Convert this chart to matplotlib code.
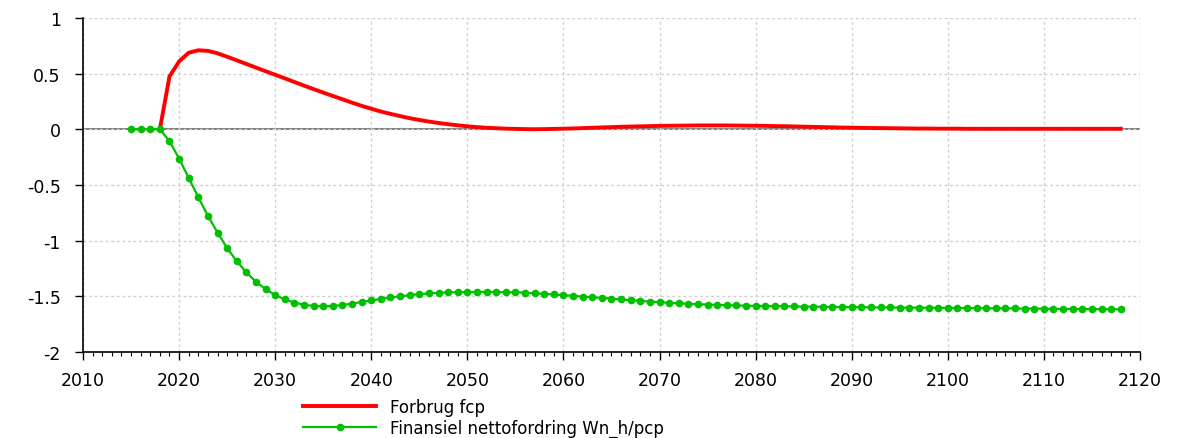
import matplotlib
matplotlib.use("Agg")
import matplotlib.pyplot as plt
from matplotlib.ticker import MultipleLocator

# Forbrug fcp (2018-2118)
years_fcp = list(range(2018, 2119))
fcp = [
    0.000, 0.475, 0.610, 0.688, 0.710, 0.705, 0.683, 0.652, 0.620, 0.587,
    0.555, 0.522, 0.490, 0.458, 0.425, 0.393, 0.361, 0.330, 0.300, 0.270,
    0.240, 0.211, 0.185, 0.160, 0.139, 0.119, 0.100, 0.084, 0.070, 0.057,
    0.046, 0.036, 0.027, 0.020, 0.014, 0.010, 0.006, 0.004, 0.002, 0.001,
    0.002, 0.004, 0.006, 0.008, 0.011, 0.014, 0.017, 0.020, 0.023, 0.025,
    0.027, 0.029, 0.031, 0.032, 0.033, 0.034, 0.035, 0.035, 0.035, 0.035,
    0.034, 0.033, 0.032, 0.031, 0.029, 0.028, 0.026, 0.024, 0.022, 0.020,
    0.018, 0.016, 0.015, 0.013, 0.012, 0.011, 0.010, 0.009, 0.008, 0.007,
    0.007, 0.006, 0.006, 0.006, 0.005, 0.005, 0.005, 0.005, 0.005, 0.005,
    0.005, 0.005, 0.005, 0.005, 0.005, 0.005, 0.005, 0.005, 0.005, 0.005,
    0.005,
]

# Finansiel nettofordring Wn_h/pcp (2015-2118)
years_wn = list(range(2015, 2119))
wn = [
    0.000, 0.000, 0.000, 0.000, -0.105, -0.263, -0.436, -0.610, -0.777, -0.927,
    -1.067, -1.184, -1.285, -1.369, -1.435, -1.489, -1.528, -1.557, -1.575, -1.587,
    -1.590, -1.587, -1.578, -1.566, -1.550, -1.536, -1.524, -1.510, -1.500, -1.490,
    -1.480, -1.474, -1.468, -1.465, -1.462, -1.462, -1.460, -1.460, -1.462, -1.462,
    -1.463, -1.468, -1.473, -1.478, -1.483, -1.490, -1.496, -1.502, -1.508, -1.514,
    -1.521, -1.528, -1.535, -1.541, -1.547, -1.553, -1.558, -1.563, -1.567, -1.571,
    -1.574, -1.577, -1.580, -1.582, -1.584, -1.586, -1.588, -1.589, -1.590, -1.591,
    -1.592, -1.593, -1.594, -1.595, -1.596, -1.597, -1.598, -1.599, -1.600, -1.600,
    -1.601, -1.601, -1.602, -1.602, -1.603, -1.604, -1.605, -1.605, -1.606, -1.607,
    -1.607, -1.608, -1.609, -1.610, -1.610, -1.611, -1.612, -1.613, -1.613, -1.614,
    -1.615, -1.616, -1.616, -1.617,
]

labels = ["Forbrug fcp", "Finansiel nettofordring Wn_h/pcp"]

plt.rcParams["font.family"] = ["DejaVu Sans"]

fig = plt.figure(figsize=(11.79, 4.39), dpi=100)
ax = fig.add_axes([0.0704, 0.1959, 0.8965, 0.7608])

# grid og nul-linje
ax.grid(True, which="major", color="#cfcfcf", linestyle=(0, (2, 2)), linewidth=1.0)
ax.axhline(0, color="#666666", linewidth=1.2, zorder=1)

ax.plot(years_fcp, fcp, color="#ff0000", linewidth=2.8, label=labels[0], zorder=3)
ax.plot(years_wn, wn, color="#00c000", linewidth=1.6, marker="o", markersize=4.5,
        label=labels[1], zorder=4)

ax.set_xlim(2010, 2120)
ax.set_ylim(-2, 1)
ax.xaxis.set_major_locator(MultipleLocator(10))
ax.xaxis.set_minor_locator(MultipleLocator(1))
ax.yaxis.set_major_locator(MultipleLocator(0.5))
ax.yaxis.set_major_formatter(plt.FuncFormatter(lambda v, p: f"{v:g}"))

for s in ["top", "right"]:
    ax.spines[s].set_visible(False)
for s in ["left", "bottom"]:
    ax.spines[s].set_linewidth(1.2)

ax.tick_params(axis="both", which="major", length=6, width=1.0, labelsize=12.5, pad=8)
ax.tick_params(axis="x", which="minor", length=3, width=0.8)
ax.tick_params(axis="y", which="major", pad=10)

fig.legend(loc="upper left", bbox_to_anchor=(303 / 1179, 1 - 399 / 439),
           frameon=False, fontsize=12, handlelength=4.4, handletextpad=0.85,
           borderpad=0, borderaxespad=0, labelspacing=0.15)

fig.savefig("out.png", dpi=100)
